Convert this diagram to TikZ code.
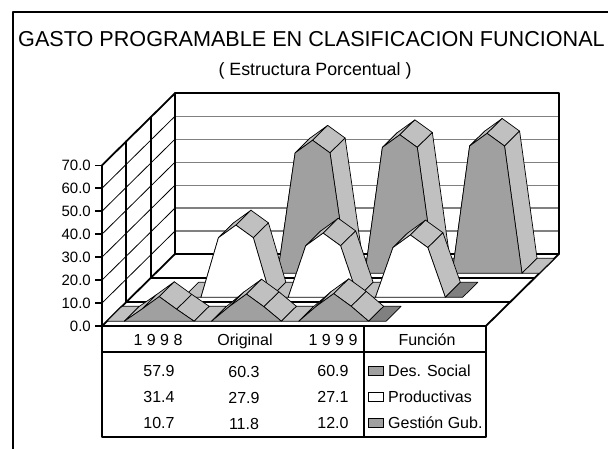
\documentclass[tikz,border=0pt]{standalone}
\usepackage{fontspec}
\setmainfont{Liberation Sans}
\definecolor{facegray}{HTML}{A0A0A0}
\definecolor{topgray}{HTML}{C0C0C0}
\definecolor{endgray}{HTML}{808080}
\definecolor{gridgray}{HTML}{808080}
\newcommand\drawrib[7]{%
  \pgfmathsetmacro\rdf{#1+0.2}%
  \pgfmathsetmacro\rdb{#1+0.82}%
  \pgfmathsetmacro\rva{#3}\pgfmathsetmacro\rvb{#4}\pgfmathsetmacro\rvc{#5}%
  \pgfmathsetmacro\rsa{#3-5.5}\pgfmathsetmacro\rsb{#4-5.5}\pgfmathsetmacro\rsc{#5-5.5}%
  \foreach \pj/\ya/\yb in {0/0/0,1/0/\rsa,2/\rsa/\rva,3/\rva/\rsa,4/\rsa/0,5/0/0,6/0/\rsb,7/\rsb/\rvb,8/\rvb/\rsb,9/\rsb/0,10/0/0,11/0/\rsc,12/\rsc/\rvc,13/\rvc/\rsc,14/\rsc/0}{%
    \draw[topface] ({#2+\pj},\ya,\rdf) -- ({#2+\pj+1},\yb,\rdf) -- ({#2+\pj+1},\yb,\rdb) -- ({#2+\pj},\ya,\rdb) -- cycle;
  }%
  \draw[topface,fill=#7] ({#2+15},0,\rdf) -- ({#2+16},0,\rdf) -- ({#2+16},0,\rdb) -- ({#2+15},0,\rdb) -- cycle;
  \foreach \pa/\pv/\ps in {3/\rva/\rsa,8/\rvb/\rsb,13/\rvc/\rsc}{%
    \draw[frontface,fill=#6] ({#2+\pa-2},0,\rdf) -- ({#2+\pa-1},\ps,\rdf) -- ({#2+\pa},\pv,\rdf) -- ({#2+\pa+1},\ps,\rdf) -- ({#2+\pa+2},0,\rdf) -- cycle;
  }%
}
\begin{document}
\begin{tikzpicture}[x=1pt,y=-1pt,
  thickline/.style={line width=1.8pt,line cap=round,line join=round},
  thinblack/.style={line width=0.8pt},
  gridline/.style={line width=1.2pt,draw=gridgray},
  topface/.style={fill=topgray,draw=black,line width=0.7pt,line join=round},
  frontface/.style={draw=black,line width=0.7pt,line join=round},
  lbl/.style={inner sep=0pt,font=\fontsize{16pt}{19pt}\selectfont},
  ticklbl/.style={inner sep=0pt,anchor=base east,font=\fontsize{15pt}{18pt}\selectfont},
  keybox/.style={draw=black,line width=0.8pt}]
\useasboundingbox (0,0) rectangle (608,449);
\fill[white] (0,0) rectangle (608,449);
\draw[thickline,line cap=butt] (13,449) -- (13,12) -- (608,12);
\node[inner sep=0pt,anchor=base,font=\fontsize{21.6pt}{25pt}\selectfont] (title) at (311.5,47) {GASTO PROGRAMABLE EN CLASIFICACION FUNCIONAL};
\node[inner sep=0pt,anchor=base,font=\fontsize{17.8pt}{21pt}\selectfont] (subtitle) at (315,76) {( Estructura Porcentual )};
\begin{scope}[shift={(102pt,-326pt)},x={(17.45pt,0pt)},y={(0pt,2.296pt)},z={(24.33pt,24pt)}]
  % back wall
  \foreach \gv in {10,20,...,60} \draw[gridline] (0,\gv,3) -- (22,\gv,3);
  % left wall
  \foreach \gv in {10,20,...,60} \draw[thinblack] (0,\gv,0) -- (0,\gv,3);
  \draw[thickline] (0,0,1) -- (0,70,1);
  \draw[thickline] (0,0,2) -- (0,70,2);
  \draw[thickline] (0,0,3) -- (0,70,3) -- (22,70,3) -- (22,0,3) -- cycle;
  \draw[thickline] (0,0,0) -- (0,70,0) -- (0,70,3);
  \draw[thickline] (0,0,0) -- (0,0,3);
  % floor
  \draw[thickline] (0,0,1) -- (22,0,1);
  \draw[thickline] (0,0,2) -- (22,0,2);
  \draw[thickline] (22,0,3) -- (22,0,0) -- (0,0,0);
  \foreach \gv in {0,10,...,70} \draw[line width=1.5pt] (0,\gv,0) -- ++(-7pt,0pt);
  % series, back to front
  \drawrib{2}{6}{57.9}{60.3}{60.9}{facegray}{topgray}
  \drawrib{1}{3}{31.4}{27.9}{27.1}{white}{endgray}
  \drawrib{0}{0}{10.7}{11.8}{12.0}{facegray}{endgray}
\end{scope}
% tick labels
\foreach \gv in {0,10,...,70}
  \node[ticklbl] (tk\gv) at (91,{326-2.296*\gv+5.5}) {\gv.0};
% data table
\draw[thickline] (102,326) -- (102,437) -- (486,437) -- (486,326);
\draw[thickline] (102,352) -- (486,352);
\draw[thickline] (364,326) -- (364,437);
\node[lbl,anchor=base] (h1) at (158,345) {1 9 9 8};
\node[lbl,anchor=base] (h2) at (245,345) {Original};
\node[lbl,anchor=base] (h3) at (333,345) {1 9 9 9};
\node[lbl,anchor=base] (h4) at (427,345) {Función};
\node[lbl,anchor=base] (a1) at (159,376) {57.9};
\node[lbl,anchor=base] (a2) at (159,402) {31.4};
\node[lbl,anchor=base] (a3) at (159,428) {10.7};
\node[lbl,anchor=base] (b1) at (244,377.5) {60.3};
\node[lbl,anchor=base] (b2) at (244,403.5) {27.9};
\node[lbl,anchor=base] (b3) at (244,429.5) {11.8};
\node[lbl,anchor=base] (c1) at (333,376) {60.9};
\node[lbl,anchor=base] (c2) at (333,402) {27.1};
\node[lbl,anchor=base] (c3) at (333,428) {12.0};
\draw[keybox,fill=facegray] (368,366) rectangle (383,375);
\draw[keybox,fill=white] (368,392) rectangle (383,401);
\draw[keybox,fill=facegray] (368,418) rectangle (383,427);
\node[lbl,anchor=base west] (k1) at (388,376) {Des. Social};
\node[lbl,anchor=base west] (k2) at (388,402) {Productivas};
\node[lbl,anchor=base west] (k3) at (388,428) {Gestión Gub.};
\end{tikzpicture}
\end{document}
